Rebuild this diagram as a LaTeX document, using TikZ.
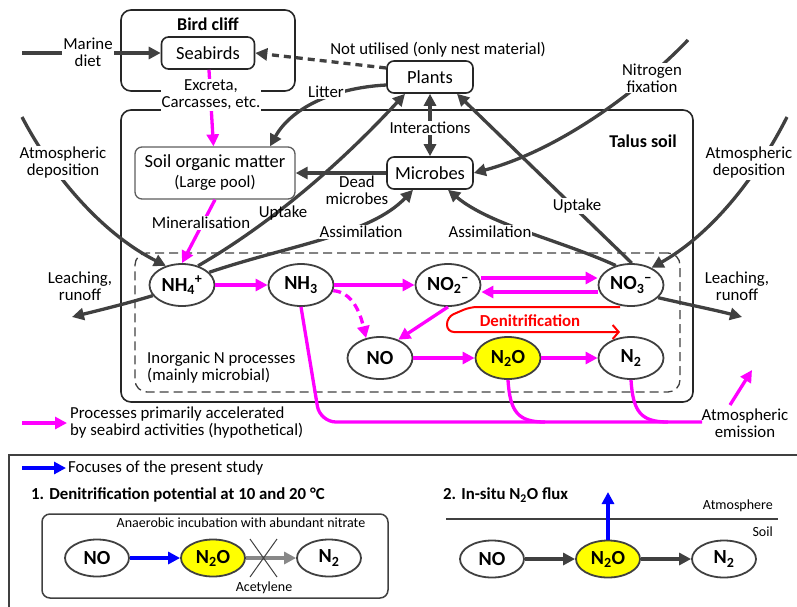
\documentclass[tikz,border=0pt]{standalone}
\usepackage{fontspec}
\setmainfont{Carlito}
\usetikzlibrary{arrows.meta,shapes.geometric}
\definecolor{dg}{RGB}{64,64,64}
\definecolor{mg}{RGB}{255,0,255}
\definecolor{bl}{RGB}{0,0,255}
\definecolor{yl}{RGB}{255,255,0}
\definecolor{lg}{RGB}{136,136,136}
\begin{document}
\begin{tikzpicture}[x=1pt,y=-1pt,
  lbl/.style={font=\fontsize{16.8}{17}\selectfont, align=center, inner sep=1pt},
  wlbl/.style={lbl, fill=white},
  small/.style={font=\fontsize{14}{16}\selectfont, inner sep=0pt},
  head/.style={font=\bfseries\fontsize{18}{20}\selectfont, inner sep=0pt},
  ttl/.style={font=\bfseries\fontsize{16.8}{18}\selectfont, inner sep=0pt, anchor=west},
  boxn/.style={draw=black!85, line width=1.6pt, rounded corners=7pt, minimum height=32pt, fill=white,
    font=\fontsize{18.5}{20}\selectfont, inner sep=0pt},
  frame/.style={draw=black!85, line width=1.6pt, rounded corners=10pt},
  chem/.style={ellipse, draw=dg, line width=1.8pt, fill=white, minimum width=65pt, minimum height=42pt,
    inner sep=0pt, font=\bfseries\fontsize{20}{22}\selectfont},
  chemb/.style={chem, minimum width=64pt, minimum height=37pt},
  tipg/.style={-{Triangle[length=12pt,width=12pt]}},
  garr/.style={draw=dg, line width=3.3pt, tipg},
  marr/.style={draw=mg, line width=3.3pt, tipg},
  barr/.style={draw=bl, line width=3.3pt, tipg},
  larr/.style={draw=lg, line width=3.3pt, tipg},
  mline/.style={draw=mg, line width=3.3pt},
]
\useasboundingbox (0,0) rectangle (797,606);

% frames
\node[frame, minimum width=174pt, minimum height=81pt] (cliff) at (208,50.5) {};
\node[frame, minimum width=572pt, minimum height=292pt] (talus) at (407,256) {};
\node[draw=dg, line width=1.3pt, dash pattern=on 9pt off 5pt, rounded corners=12pt,
  minimum width=545pt, minimum height=139pt] (inorg) at (407.5,322.5) {};
\node[head] (tcliff) at (208,24) {Bird cliff};
\node[head] (ttalus) at (643,141) {Talus soil};
\node[lbl, anchor=west, align=left] (tinorg) at (146,367.5) {Inorganic N processes\\(mainly microbial)};

% main nodes
\node[boxn, minimum width=93pt] (seabirds) at (208,53) {Seabirds};
\node[boxn, minimum width=86pt] (plants) at (430,77) {Plants};
\node[boxn, minimum width=86pt] (microbes) at (430,173) {Microbes};
\node[boxn, draw=dg!85, line width=1.3pt, minimum width=160pt, minimum height=52pt, align=center,
  font=\fontsize{18.5}{20}\selectfont] (som) at (215,173)
  {Soil organic matter\\{\fontsize{16.8}{18}\selectfont(Large pool)}};
\node[lbl] (inter) at (430,128) {Interactions};

\node[chem] (nh4) at (182,285) {NH\textsubscript{4}\textsuperscript{+}};
\node[chem] (nh3) at (301,285) {NH\textsubscript{3}};
\node[chem] (no2) at (448,285) {NO\textsubscript{2}\textsuperscript{−}};
\node[chem] (no3) at (631,285) {NO\textsubscript{3}\textsuperscript{−}};
\node[chem] (no) at (380,358) {NO};
\node[chem, fill=yl] (n2o) at (508,358) {N\textsubscript{2}O};
\node[chem] (n2) at (631,358) {N\textsubscript{2}};

% free ends
\coordinate (mdiet) at (22,53);
\coordinate (nfix) at (688,40);
\coordinate (adl) at (22,117);
\coordinate (adr) at (787,117);
\coordinate (lchl) at (72,317);
\coordinate (lchr) at (742,317);

% grey connectors
\draw[garr] (mdiet) -- (seabirds.west);
\draw[garr, dash pattern=on 7pt off 5pt] ([yshift=9pt]plants.west) -- (seabirds.east);
\draw[garr] ([yshift=-8pt]plants.west) .. controls (330,88) and (290,110) .. ([xshift=55pt]som.north);
\draw[garr] (microbes.west) -- (som.east);
\draw[garr] (inter) -- (plants);
\draw[garr] (inter) -- (microbes);
\draw[garr] (nh4.50) .. controls (260,230) and (330,175) .. ([xshift=-25pt]plants.south);
\draw[garr] (nh4.25) .. controls (290,245) and (370,235) .. ([xshift=-17pt]microbes.south);
\draw[garr] (no3.88) -- ([xshift=27pt]plants.south);
\draw[garr] (no3.128) .. controls (560,240) and (490,225) .. ([xshift=18pt]microbes.south);
\draw[garr] (nfix) .. controls (640,90) and (560,150) .. (microbes.east);
\draw[garr] (adl) .. controls (55,180) and (105,235) .. (nh4.130);
\draw[garr] (adr) .. controls (755,180) and (710,235) .. (no3.40);
\draw[garr] (nh4.200) .. controls (125,304) and (100,310) .. (lchl);
\draw[garr] (no3.-25) .. controls (690,305) and (715,310) .. (lchr);

% magenta connectors
\draw[marr] (seabirds) -- (som);
\draw[marr] (som.south) -- (nh4.north);
\draw[marr] (nh4) -- (nh3);
\draw[marr] (nh3) -- (no2);
\draw[marr] ([yshift=7pt]no2.east) -- ([yshift=7pt]no3.west);
\draw[marr] ([yshift=-7pt]no3.west) -- ([yshift=-7pt]no2.east);
\draw[marr, dash pattern=on 8pt off 5pt] (nh3.-10) .. controls (352,292) and (360,312) .. (no.125);
\draw[marr] (no2.south) -- (no.45);
\draw[marr] (no) -- (n2o);
\draw[marr] (n2o) -- (n2);

\coordinate (emend) at (702,422);
\coordinate (j1) at (545,422);
\coordinate (j2) at (668,422);
\draw[mline, rounded corners=16pt] (nh3.south) -- (320,422) -- (emend);
\draw[mline] (n2o.south) .. controls (510,412) and (518,422) .. (j1);
\draw[mline] (n2.south) .. controls (633,412) and (641,422) .. (j2);
\coordinate (ea1) at (730,405);
\coordinate (ea2) at (752,370);
\draw[marr] (ea1) -- (ea2);

% denitrification
\coordinate (dn1) at (620,307);
\coordinate (dn2) at (620,332);
\draw[red, line width=2pt, rounded corners=7pt, -{Straight Barb[length=6pt,width=14pt]}]
  (dn1) -- (470,307) -- (447,317) |- (dn2);
\node[font=\bfseries\fontsize{16.8}{18}\selectfont, text=red] (ldn) at (530,321) {Denitrification};

% labels
\node[wlbl] (lmd) at (88,52) {Marine\\diet};
\node[lbl] (lnu) at (438,50) {Not utilised (only nest material)};
\node[wlbl] (lex) at (211,95) {Excreta,\\Carcasses, etc.};
\node[wlbl] (llit) at (326,92) {Litter};
\node[lbl] (ldead) at (357,190) {Dead\\microbes};
\node[wlbl] (lmin) at (201,223) {Mineralisation};
\node[lbl] (lupl) at (283,213) {Uptake};
\node[wlbl] (lupr) at (577,206) {Uptake};
\node[wlbl] (lasl) at (361,232) {Assimilation};
\node[wlbl] (lasr) at (490,232) {Assimilation};
\node[wlbl] (lnf) at (652,78) {Nitrogen\\fixation};
\node[wlbl] (ladl) at (63,163) {Atmospheric\\deposition};
\node[wlbl] (ladr) at (749,163) {Atmospheric\\deposition};
\node[lbl] (llchl) at (80,286) {Leaching,\\runoff};
\node[lbl] (llchr) at (737,286) {Leaching,\\runoff};
\node[lbl] (lem) at (745,423) {Atmospheric\\emission};

% legend magenta
\coordinate (lg1) at (22,423);
\coordinate (lg2) at (67,423);
\draw[marr] (lg1) -- (lg2);
\node[lbl, anchor=west, align=left] (lgt) at (69,423) {Processes primarily accelerated\\by seabird activities (hypothetical)};

% bottom panel
\draw[dg, line width=2pt] (9,610) -- (9,455) -- (800,455);
\coordinate (bl1) at (22,468);
\coordinate (bl2) at (66,468);
\draw[barr] (bl1) -- (bl2);
\node[lbl, anchor=west] (lbt) at (67,468) {Focuses of the present study};
\node[ttl] (t1) at (31,495) {1. Denitrification potential at 10 and 20 °C};
\node[draw=dg, line width=1.5pt, rounded corners=8pt, minimum width=346pt, minimum height=84pt] (incub) at (215,556) {};
\node[small] (lan) at (241,523) {Anaerobic incubation with abundant nitrate};
\node[chemb] (bno) at (97,558) {NO};
\node[chemb, fill=yl] (bn2o) at (213,558) {N\textsubscript{2}O};
\node[chemb] (bn2) at (329,558) {N\textsubscript{2}};
\draw[barr] (bno) -- (bn2o);
\draw[larr] (bn2o) -- (bn2);
\draw[dg, line width=1pt] (250,539) -- (277,577) (277,539) -- (250,577);
\node[small] (lac) at (264,588) {Acetylene};

\node[ttl] (t2) at (443,495) {2. In-situ N\textsubscript{2}O flux};
\draw[dg, line width=1.5pt] (446,519) -- (778,519);
\node[small, anchor=east] (latm) at (773,506) {Atmosphere};
\node[small, anchor=east] (lsoil) at (773,532) {Soil};
\node[chemb] (sno) at (492,559) {NO};
\node[chemb, fill=yl] (sn2o) at (608,559) {N\textsubscript{2}O};
\node[chemb] (sn2) at (724,559) {N\textsubscript{2}};
\draw[garr] (sno) -- (sn2o);
\draw[garr] (sn2o) -- (sn2);
\coordinate (up) at (608,492);
\draw[barr] (sn2o) -- (up);
\end{tikzpicture}
\end{document}
